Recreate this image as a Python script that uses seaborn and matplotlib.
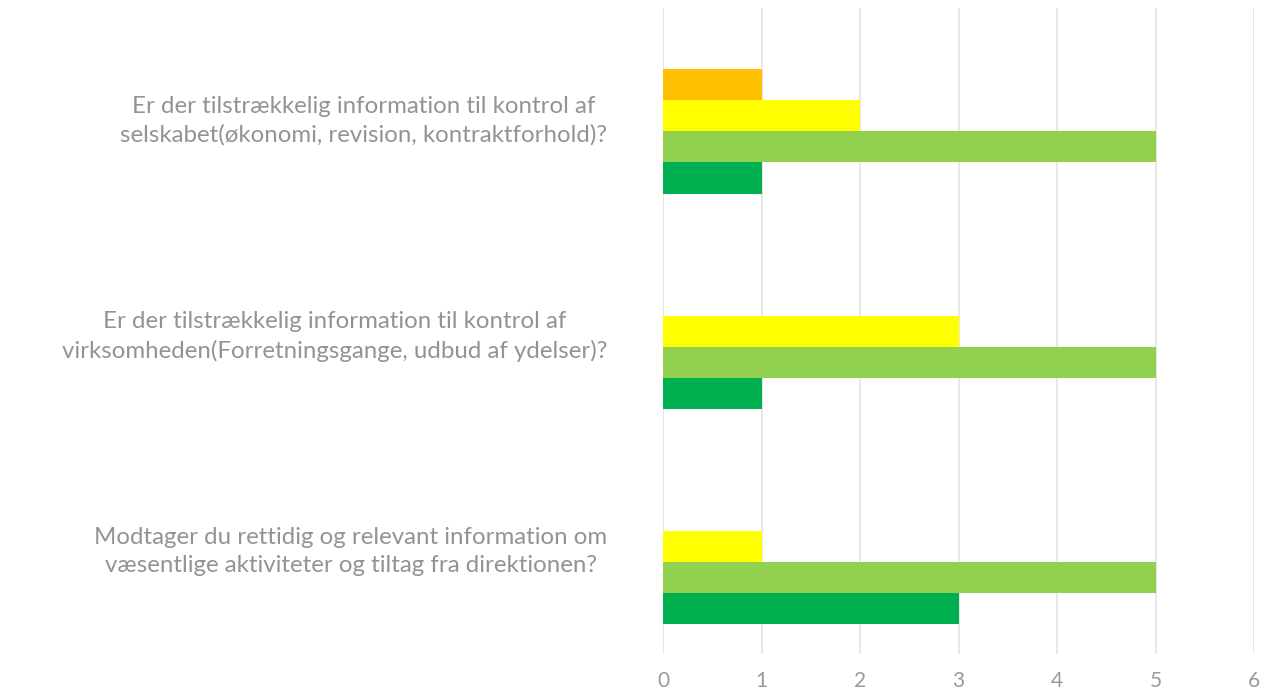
import pandas as pd
import matplotlib
matplotlib.use("Agg")
import matplotlib.pyplot as plt
import matplotlib.transforms as mtransforms
import seaborn as sns

questions = [
    "Er der tilstrækkelig information til kontrol af\nselskabet(økonomi, revision, kontraktforhold)?",
    "Er der tilstrækkelig information til kontrol af\nvirksomheden(Forretningsgange, udbud af ydelser)?",
    "Modtager du rettidig og relevant information om\nvæsentlige aktiviteter og tiltag fra direktionen?",
]
series = ["orange", "gul", "lysegrøn", "grøn"]
orange_vals = [1, 0, 0]
yellow_vals = [2, 3, 1]
lightgreen_vals = [5, 5, 5]
green_vals = [1, 1, 3]
colors = ["#FFC000", "#FFFF00", "#92D050", "#00B050"]
xticks = [0, 1, 2, 3, 4, 5, 6]

rows = []
for s, vals in zip(series, [orange_vals, yellow_vals, lightgreen_vals, green_vals]):
    for q, v in zip(questions, vals):
        rows.append({"question": q, "serie": s, "antal": v})
df = pd.DataFrame(rows)

sns.set_style("white")
plt.rcParams["font.family"] = ["Lato", "DejaVu Sans"]
text_color = "#939393"

fig = plt.figure(figsize=(12.69, 6.97), dpi=100)
ax = fig.add_axes([663 / 1269, 1 - 654 / 697, (1254 - 663) / 1269, (654 - 8) / 697])

sns.barplot(data=df, y="question", x="antal", hue="serie", order=questions,
            hue_order=series, palette=colors, saturation=1, orient="h",
            width=0.576, linewidth=0, ax=ax, legend=False)

ax.set_xlim(0, 6)
ax.set_ylim(2.425, -0.573)
ax.set_xticks(xticks)
ax.xaxis.grid(True, color="#E3E3E3", linewidth=1.2)
ax.set_axisbelow(True)
for sp in ax.spines.values():
    sp.set_visible(False)
ax.set_xlabel("")
ax.set_ylabel("")
ax.tick_params(axis="x", length=0, pad=12, labelsize=15, labelcolor="#999999")
ax.tick_params(axis="y", length=0, pad=40, labelsize=17.3, labelcolor=text_color)

# the question labels sit a bit above the centre of each bar group
shift = mtransforms.ScaledTranslation(0, 16 / 100, fig.dpi_scale_trans)
for lbl in ax.get_yticklabels():
    lbl.set_multialignment("center")
    lbl.set_linespacing(1.4)
    lbl.set_transform(lbl.get_transform() + shift)

fig.savefig("out.png", dpi=100, facecolor="white")
